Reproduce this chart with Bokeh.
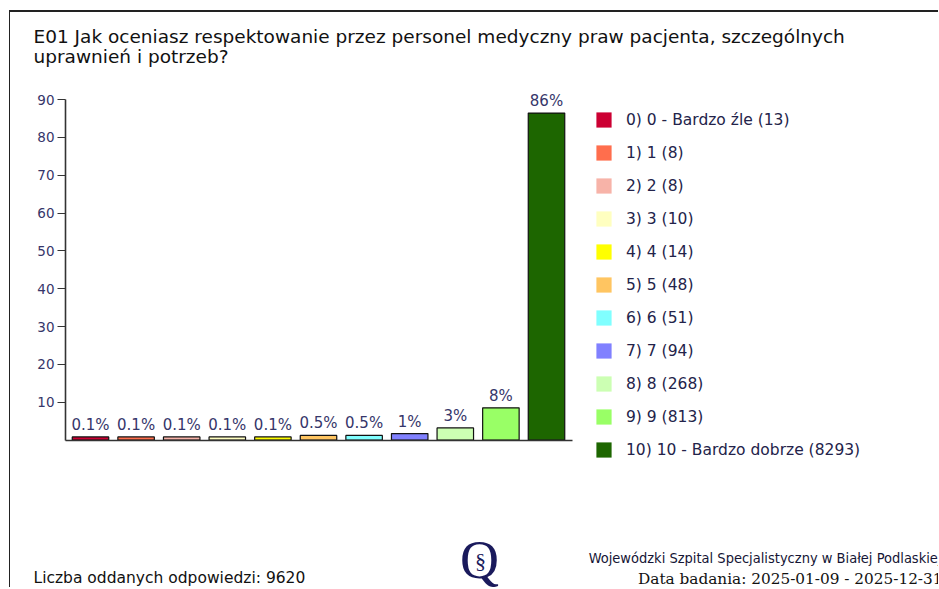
from bokeh.plotting import figure
from bokeh.models import (Range1d, FixedTicker, Label, Legend, LegendItem,
                          ColumnDataSource, LabelSet)
from bokeh.core.properties import value
from bokeh.embed import file_html
from bokeh.resources import INLINE

# ---- data ----
categories = ["0) 0 - Bardzo źle", "1) 1", "2) 2", "3) 3", "4) 4", "5) 5",
              "6) 6", "7) 7", "8) 8", "9) 9", "10) 10 - Bardzo dobrze"]
counts = [13, 8, 8, 10, 14, 48, 51, 94, 268, 813, 8293]
bar_heights = [0.8, 0.8, 0.8, 0.8, 0.8, 1.2, 1.2, 1.7, 3.2, 8.5, 86.4]
pct_labels = ["0.1%", "0.1%", "0.1%", "0.1%", "0.1%", "0.5%", "0.5%", "1%",
              "3%", "8%", "86%"]
colors = ["#cc0033", "#ff6e4d", "#f7b3a8", "#ffffc0", "#ffff00", "#ffc561",
          "#80ffff", "#8080ff", "#ccffb3", "#99ff66", "#1d6600"]
y_ticks = [10, 20, 30, 40, 50, 60, 70, 80, 90]
title_lines = ["E01 Jak oceniasz respektowanie przez personel medyczny praw pacjenta, szczególnych",
               "uprawnień i potrzeb?"]
total_text = "Liczba oddanych odpowiedzi: 9620"
org_text = "Wojewódzki Szpital Specjalistyczny w Białej Podlaskiej"
date_text = "Data badania: 2025-01-09 - 2025-12-31"

W, H = 929, 577
NAVY = "#36366a"
PX_X = 45.6          # pixels per category step
PX_Y = 340.5 / 90    # pixels per percent
X0 = 80.0            # canvas x of the first bar centre
Y0 = 427.5           # canvas y (from top) of value 0

p = figure(width=W, height=H, output_backend="svg", toolbar_location=None,
           x_range=Range1d(-X0 / PX_X, (W - X0) / PX_X),
           y_range=Range1d(-(H - Y0) / PX_Y, Y0 / PX_Y),
           min_border_left=0, min_border_right=0, min_border_top=0, min_border_bottom=0)
p.outline_line_color = None
p.grid.visible = False
p.styles = {"border-top": "2px solid #222222", "border-left": "1px solid #222222",
            "margin-left": "9px", "margin-top": "10px"}

x_axis_pos = (65 - 10 - X0) / PX_X   # where the value axis is drawn
x_end = (572 - 10 - X0) / PX_X

xs = list(range(len(categories)))
src = ColumnDataSource(dict(x=xs, top=bar_heights, color=colors, lab=pct_labels))
p.vbar(x="x", top="top", width=0.8, bottom=0, fill_color="color",
       line_color="#111111", line_width=1.2, source=src)

p.add_layout(LabelSet(x="x", y="top", text="lab", source=src, text_align="center",
                      text_baseline="bottom", y_offset=3, text_font=value("DejaVu Sans"),
                      text_font_size=value("15px"), text_color=value(NAVY)))

# axes (drawn at fixed locations inside the frame)
p.xaxis.fixed_location = 0
p.xaxis.bounds = (x_axis_pos, x_end)
p.xaxis.ticker = FixedTicker(ticks=[])
p.xaxis.minor_tick_line_color = None
p.xaxis.axis_line_color = "#333333"
p.xaxis.axis_line_width = 1.6
p.yaxis.fixed_location = x_axis_pos
p.yaxis.bounds = (0, 90)
p.yaxis.ticker = FixedTicker(ticks=y_ticks)
p.yaxis.minor_tick_line_color = None
p.yaxis.major_tick_in = 0
p.yaxis.major_tick_out = 8
p.yaxis.major_tick_line_color = "#333333"
p.yaxis.axis_line_color = "#333333"
p.yaxis.axis_line_width = 1.6
p.yaxis.major_label_text_font = "DejaVu Sans"
p.yaxis.major_label_text_font_size = "13.5px"
p.yaxis.major_label_text_color = NAVY
p.yaxis.major_label_standoff = 3

# legend with plain swatches
items = []
for i, (c, n, col) in enumerate(zip(categories, counts, colors)):
    r = p.vbar(x=[i], top=[0], bottom=[0], width=0, fill_color=col, line_color=None)
    items.append(LegendItem(label=f"{c} ({n})", renderers=[r]))
leg = Legend(items=items, location=(584, 130), glyph_width=19, glyph_height=19,
             label_height=19, spacing=14, padding=0, margin=0,
             label_text_font="DejaVu Sans", label_text_font_size="15.5px",
             label_text_color="#23234a", label_standoff=13,
             border_line_color=None, background_fill_alpha=0)
p.add_layout(leg, "center")

def lab(x, y, text, font, size, color="#111111", align="left", style="normal"):
    # screen units: from the frame's bottom-left corner (= canvas here)
    p.add_layout(Label(x=x, y=y, x_units="screen", y_units="screen", text=text,
                       text_font=font, text_font_size=size, text_color=color,
                       text_baseline="top", text_align=align, text_font_style=style))

for k, t in enumerate(title_lines):
    lab(23, 563.5 - 20 * k, t, "DejaVu Sans", "18.5px")

lab(23, 21, total_text, "DejaVu Sans", "15.5px")
lab(931, 40, org_text, "DejaVu Sans Condensed", "14.5px", "#151535", "right")
lab(932, 20, date_text, "DejaVu Serif", "15.3px", "#111111", "right")
lab(469, 60, "Q", "Liberation Serif", "54px", "#1a1a5c", "center")
lab(470, 42, "§", "Liberation Serif", "22px", "#1a1a5c", "center")

open("out.html", "w").write(file_html(p, INLINE))
